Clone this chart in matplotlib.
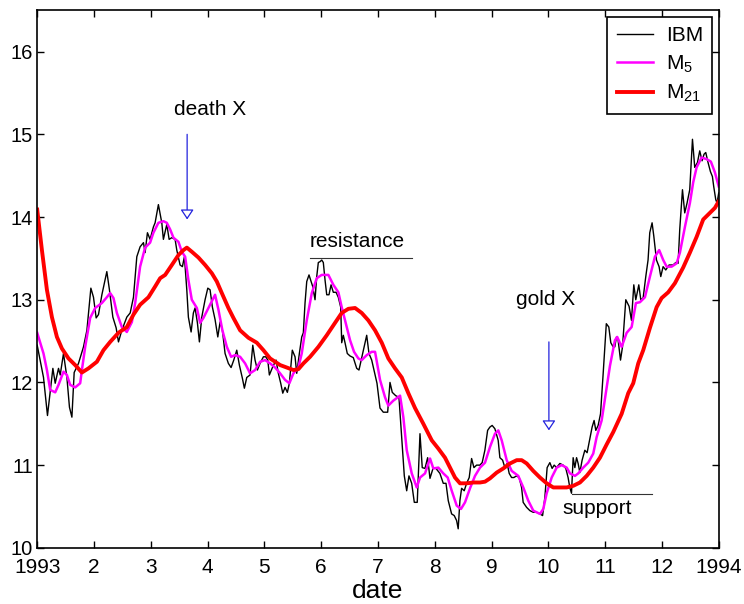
import matplotlib
matplotlib.use("Agg")
import matplotlib.pyplot as plt

plt.rcParams['font.family'] = ['Liberation Sans', 'DejaVu Sans']
plt.rcParams['mathtext.default'] = 'regular'

# ---- data (months since 1 Jan 1993, price) ----
ibm_t = [0, 0.111, 0.181, 0.276, 0.317, 0.375, 0.405, 0.463, 0.523, 0.568, 0.611, 0.651, 0.727,
         0.815, 0.875, 0.945, 0.991, 1.038, 1.079, 1.139, 1.226, 1.272, 1.332, 1.390, 1.431, 1.490,
         1.578, 1.637, 1.695, 1.754, 1.812, 1.871, 1.900, 1.941, 1.988, 2.046, 2.076, 2.134, 2.194,
         2.222, 2.282, 2.323, 2.370, 2.428, 2.458, 2.516, 2.557, 2.592, 2.634, 2.662, 2.710, 2.750,
         2.780, 2.821, 2.856, 2.898, 2.956, 3.004, 3.044, 3.085, 3.132, 3.180, 3.220, 3.261, 3.308,
         3.366, 3.414, 3.461, 3.514, 3.560, 3.613, 3.648, 3.690, 3.748, 3.796, 3.836, 3.877, 3.924,
         3.983, 4.025, 4.060, 4.088, 4.148, 4.206, 4.246, 4.288, 4.324, 4.364, 4.405, 4.440, 4.464,
         4.492, 4.540, 4.570, 4.616, 4.658, 4.686, 4.716, 4.746, 4.786, 4.822, 4.851, 4.892, 4.922,
         4.950, 4.980, 5.010, 5.038, 5.068, 5.098, 5.138, 5.174, 5.214, 5.262, 5.302, 5.344, 5.362,
         5.390, 5.420, 5.460, 5.508, 5.566, 5.626, 5.666, 5.714, 5.754, 5.802, 5.842, 5.890, 5.930,
         5.983, 6.036, 6.094, 6.171, 6.212, 6.252, 6.312, 6.370, 6.418, 6.464, 6.506, 6.546, 6.594,
         6.640, 6.692, 6.740, 6.780, 6.828, 6.875, 6.916, 6.974, 7.021, 7.091, 7.150, 7.198, 7.238,
         7.297, 7.343, 7.385, 7.413, 7.443, 7.473, 7.519, 7.561, 7.607, 7.649, 7.690, 7.737, 7.795,
         7.835, 7.883, 7.931, 7.971, 8.011, 8.059, 8.117, 8.147, 8.195, 8.235, 8.275, 8.311, 8.353,
         8.393, 8.441, 8.486, 8.529, 8.557, 8.617, 8.675, 8.733, 8.793, 8.851, 8.899, 8.939, 8.979,
         9.027, 9.067, 9.103, 9.145, 9.203, 9.261, 9.308, 9.348, 9.378, 9.408, 9.437, 9.467, 9.497,
         9.525, 9.555, 9.595, 9.643, 9.683, 9.731, 9.771, 9.806, 9.836, 9.877, 9.919, 9.965, 10.021,
         10.065, 10.100, 10.141, 10.170, 10.200, 10.229, 10.271, 10.306, 10.364, 10.422, 10.464,
         10.505, 10.540, 10.593, 10.628, 10.669, 10.716, 10.756, 10.786, 10.827, 10.857, 10.904,
         10.950, 10.980, 11.021, 11.068, 11.126, 11.197, 11.244, 11.285, 11.314, 11.362, 11.402,
         11.443, 11.490, 11.538, 11.578, 11.626, 11.666, 11.707, 11.742, 11.772, 11.812, 11.854,
         11.889, 11.912, 11.948, 11.971, 12.0]
ibm_v = [12.45, 12.06, 11.60, 12.17, 11.99, 12.17, 12.09, 12.35, 12.06, 11.70, 11.58, 12.12, 12.23,
         12.43, 12.63, 13.14, 13.03, 12.78, 12.82, 13.06, 13.34, 13.12, 12.79, 12.66, 12.49, 12.63,
         12.79, 12.84, 13.03, 13.52, 13.64, 13.69, 13.57, 13.81, 13.73, 13.88, 13.93, 14.15, 13.93,
         13.73, 13.91, 13.73, 13.75, 13.73, 13.60, 13.42, 13.40, 13.52, 13.12, 12.79, 12.61, 12.84,
         12.90, 12.72, 12.49, 12.79, 13.00, 13.14, 13.12, 12.91, 12.76, 12.55, 12.73, 12.63, 12.35,
         12.23, 12.18, 12.27, 12.39, 12.21, 12.05, 11.93, 12.06, 12.09, 12.45, 12.27, 12.15, 12.23,
         12.31, 12.31, 12.27, 12.09, 12.19, 12.27, 12.11, 11.99, 11.87, 11.94, 11.88, 11.99, 12.18,
         12.39, 12.31, 12.11, 12.35, 12.55, 12.60, 12.96, 13.22, 13.30, 13.22, 13.16, 13.00, 13.28,
         13.45, 13.46, 13.48, 13.45, 13.24, 13.06, 13.06, 13.18, 13.09, 13.09, 13.03, 12.91, 12.48,
         12.57, 12.48, 12.35, 12.32, 12.30, 12.17, 12.15, 12.30, 12.43, 12.57, 12.35, 12.27, 12.15,
         11.99, 11.69, 11.64, 11.64, 12.00, 11.88, 11.84, 11.82, 11.33, 10.87, 10.69, 10.87, 10.78,
         10.55, 10.55, 11.38, 10.97, 10.96, 11.09, 10.84, 10.97, 10.96, 10.90, 10.78, 10.78, 10.57,
         10.41, 10.39, 10.33, 10.23, 10.57, 10.72, 10.69, 10.78, 10.85, 11.08, 10.97, 11.00, 11.00,
         11.03, 11.18, 11.42, 11.46, 11.48, 11.44, 11.30, 11.09, 11.06, 10.97, 11.02, 10.90, 10.85,
         10.85, 10.87, 10.85, 10.73, 10.55, 10.49, 10.45, 10.43, 10.43, 10.41, 10.39, 10.61, 10.97,
         11.03, 10.96, 11.00, 10.97, 11.02, 11.00, 10.96, 10.85, 10.73, 10.66, 11.09, 10.97, 11.09,
         11.02, 10.91, 11.06, 11.18, 11.15, 11.32, 11.46, 11.54, 11.42, 11.48, 11.62, 12.10, 12.71,
         12.67, 12.48, 12.43, 12.43, 12.55, 12.51, 12.27, 12.43, 13.00, 12.92, 12.75,
         13.18, 13.00, 13.18, 13.00, 13.02, 13.28, 13.48, 13.81, 13.93, 13.77, 13.48,
         13.40, 13.28, 13.40, 13.36, 13.42, 13.42, 13.45, 13.44, 13.85, 14.33, 14.05,
         14.17, 14.33, 14.94, 14.60, 14.66, 14.80, 14.68, 14.76, 14.78, 14.66, 14.55,
         14.49, 14.37, 14.21, 14.17, 14.29]

m5_t = [0, 0.111, 0.171, 0.229, 0.317, 0.375, 0.463, 0.523, 0.581, 0.669, 0.757, 0.787, 0.845,
        0.933, 1.021, 1.139, 1.226, 1.285, 1.343, 1.403, 1.490, 1.578, 1.667, 1.725, 1.812, 1.900,
        1.988, 2.046, 2.134, 2.222, 2.282, 2.341, 2.399, 2.487, 2.547, 2.605, 2.662, 2.722, 2.811,
        2.869, 2.927, 3.015, 3.132, 3.191, 3.261, 3.339, 3.414, 3.485, 3.573, 3.661, 3.748, 3.837,
        3.925, 4.013, 4.101, 4.189, 4.277, 4.365, 4.440, 4.511, 4.599, 4.658, 4.746, 4.835, 4.922,
        5.010, 5.127, 5.215, 5.303, 5.362, 5.420, 5.509, 5.579, 5.655, 5.714, 5.802, 5.890, 5.949,
        6.037, 6.125, 6.183, 6.271, 6.389, 6.447, 6.507, 6.595, 6.683, 6.741, 6.829, 6.917, 6.975,
        7.063, 7.151, 7.228, 7.299, 7.387, 7.462, 7.533, 7.621, 7.709, 7.797, 7.885, 7.973, 8.061,
        8.119, 8.179, 8.267, 8.355, 8.471, 8.559, 8.647, 8.735, 8.853, 8.911, 8.971, 9.059, 9.147,
        9.235, 9.323, 9.381, 9.469, 9.527, 9.615, 9.703, 9.791, 9.851, 9.939, 10.027, 10.085,
        10.173, 10.213, 10.291, 10.379, 10.467, 10.542, 10.613, 10.701, 10.789, 10.877, 10.952,
        11.023, 11.083, 11.171, 11.259, 11.317, 11.405, 11.493, 11.551, 11.611, 11.699, 11.787,
        11.862, 11.933, 12.0]
m5_v = [12.60, 12.35, 12.15, 11.91, 11.88, 11.97, 12.13, 12.09, 11.97, 11.94, 11.99, 12.15, 12.43,
        12.78, 12.90, 12.96, 13.03, 13.08, 13.02, 12.84, 12.67, 12.61, 12.73, 12.96, 13.40, 13.63,
        13.69, 13.81, 13.93, 13.95, 13.93, 13.85, 13.75, 13.70, 13.58, 13.52, 13.24, 13.00, 12.90,
        12.72, 12.78, 12.90, 13.06, 12.88, 12.63, 12.43, 12.31, 12.33, 12.31, 12.23, 12.11, 12.15,
        12.25, 12.27, 12.23, 12.18, 12.11, 12.03, 11.99, 12.11, 12.18, 12.35, 12.75, 13.08, 13.26,
        13.30, 13.30, 13.18, 13.09, 12.91, 12.75, 12.51, 12.37, 12.29, 12.27, 12.33, 12.37, 12.37,
        12.03, 11.82, 11.72, 11.78, 11.84, 11.58, 11.18, 10.90, 10.73, 10.85, 10.90, 11.08, 10.96,
        10.97, 10.90, 10.85, 10.69, 10.51, 10.47, 10.55, 10.72, 10.87, 10.97, 11.03, 11.22, 11.38,
        11.42, 11.30, 11.06, 10.93, 10.87, 10.73, 10.57, 10.45, 10.41, 10.47, 10.66, 10.85, 10.97,
        11.00, 10.97, 10.90, 10.87, 10.90, 10.97, 11.03, 11.14, 11.34, 11.54, 11.94, 12.20,
        12.51, 12.55, 12.43, 12.60, 12.67, 12.96, 12.97, 13.03, 13.28, 13.52, 13.60,
        13.48, 13.40, 13.40, 13.44, 13.57, 13.88, 14.17, 14.42, 14.60, 14.72, 14.70,
        14.67, 14.54, 14.37]

m21_t = [0, 0.083, 0.171, 0.259, 0.347, 0.435, 0.551, 0.669, 0.787, 0.903, 1.051, 1.167, 1.285,
         1.431, 1.579, 1.695, 1.813, 1.959, 2.077, 2.165, 2.253, 2.371, 2.487, 2.575, 2.635, 2.723,
         2.839, 2.957, 3.075, 3.163, 3.251, 3.367, 3.455, 3.573, 3.719, 3.867, 3.983, 4.101, 4.277,
         4.395, 4.511, 4.599, 4.687, 4.805, 4.951, 5.098, 5.244, 5.362, 5.479, 5.597, 5.714, 5.831,
         5.949, 6.067, 6.183, 6.301, 6.419, 6.535, 6.653, 6.799, 6.947, 7.063, 7.181, 7.269, 7.357,
         7.445, 7.563, 7.679, 7.797, 7.885, 7.973, 8.091, 8.207, 8.325, 8.443, 8.531, 8.619, 8.735,
         8.853, 8.971, 9.087, 9.205, 9.323, 9.439, 9.557, 9.675, 9.791, 9.909, 10.027, 10.143,
         10.291, 10.407, 10.495, 10.583, 10.671, 10.789, 10.907, 10.995, 11.111, 11.229, 11.375,
         11.493, 11.611, 11.727, 11.845, 11.933, 12.0]
m21_v = [14.09, 13.60, 13.12, 12.79, 12.55, 12.41, 12.29, 12.21, 12.12, 12.17, 12.25, 12.39, 12.49,
         12.60, 12.67, 12.82, 12.94, 13.03, 13.16, 13.26, 13.30, 13.42, 13.54, 13.60, 13.63, 13.58,
         13.51, 13.42, 13.32, 13.22, 13.08, 12.90, 12.78, 12.63, 12.54, 12.48, 12.39, 12.29, 12.21,
         12.18, 12.15, 12.16, 12.23, 12.31, 12.43, 12.57, 12.72, 12.84, 12.89, 12.90, 12.84, 12.75,
         12.63, 12.48, 12.29, 12.17, 12.06, 11.87, 11.69, 11.50, 11.30, 11.20, 11.09, 10.97, 10.85,
         10.78, 10.78, 10.79, 10.79, 10.80, 10.84, 10.91, 10.96, 11.02, 11.06, 11.06, 11.02, 10.93,
         10.85, 10.78, 10.73, 10.73, 10.73, 10.75, 10.79, 10.87, 10.97, 11.09, 11.25, 11.40,
         11.62, 11.87, 11.99, 12.23, 12.39, 12.66, 12.91, 13.02, 13.09, 13.20, 13.39,
         13.57, 13.76, 13.97, 14.05, 14.11, 14.19]

tick_pos = list(range(13))
tick_labels = ['1993', '2', '3', '4', '5', '6', '7', '8', '9', '10', '11', '12', '1994']

# ---- figure ----
fig = plt.figure(figsize=(7.44, 6.04), dpi=100)
ax = fig.add_axes([0.050, 0.093, 0.916, 0.890])

ax.plot(ibm_t, ibm_v, color='black', lw=1.0, label='IBM')
ax.plot(m5_t, m5_v, color='#ff00ff', lw=1.8, label='$M_5$')
ax.plot(m21_t, m21_v, color='#ff0000', lw=2.8, label='$M_{21}$')

ax.set_xlim(0, 12)
ax.set_ylim(10, 16.5)
ax.set_xticks(tick_pos)
ax.set_xticklabels(tick_labels)
ax.set_yticks([10, 11, 12, 13, 14, 15, 16])
ax.tick_params(direction='in', top=True, right=True, length=5, width=1)
ax.tick_params(axis='x', labelsize=15, pad=7)
ax.tick_params(axis='y', labelsize=14.5, pad=3)
for s in ax.spines.values():
    s.set_linewidth(1.2)
ax.set_xlabel('date', fontsize=19, labelpad=2)

# annotations
arrow_kw = dict(arrowstyle='-|>,head_length=0.6,head_width=0.4', ec='#2222dd', fc='white',
                lw=0.9, shrinkA=0, shrinkB=0, mutation_scale=10)
ax.annotate('', xy=(2.64, 13.97), xytext=(2.64, 15.0), arrowprops=arrow_kw)
ax.text(3.04, 15.30, 'death X', fontsize=15, ha='center', va='center')
ax.annotate('', xy=(9.01, 11.42), xytext=(9.01, 12.49), arrowprops=arrow_kw)
ax.text(8.95, 13.0, 'gold X', fontsize=15, ha='center', va='center')
ax.plot([4.80, 6.60], [13.50, 13.50], color='#333333', lw=0.8)
ax.text(4.80, 13.70, 'resistance', fontsize=15, ha='left', va='center')
ax.plot([9.41, 10.82], [10.65, 10.65], color='#333333', lw=0.8)
ax.text(9.25, 10.47, 'support', fontsize=15, ha='left', va='center')

leg = ax.legend(loc='upper right', fontsize=15, frameon=True, fancybox=False,
                framealpha=1, edgecolor='black', handlelength=1.75, handletextpad=0.6,
                labelspacing=0.4, borderaxespad=0.3, borderpad=0.45)
leg.get_frame().set_linewidth(1.2)

fig.savefig('out.png', dpi=100)
